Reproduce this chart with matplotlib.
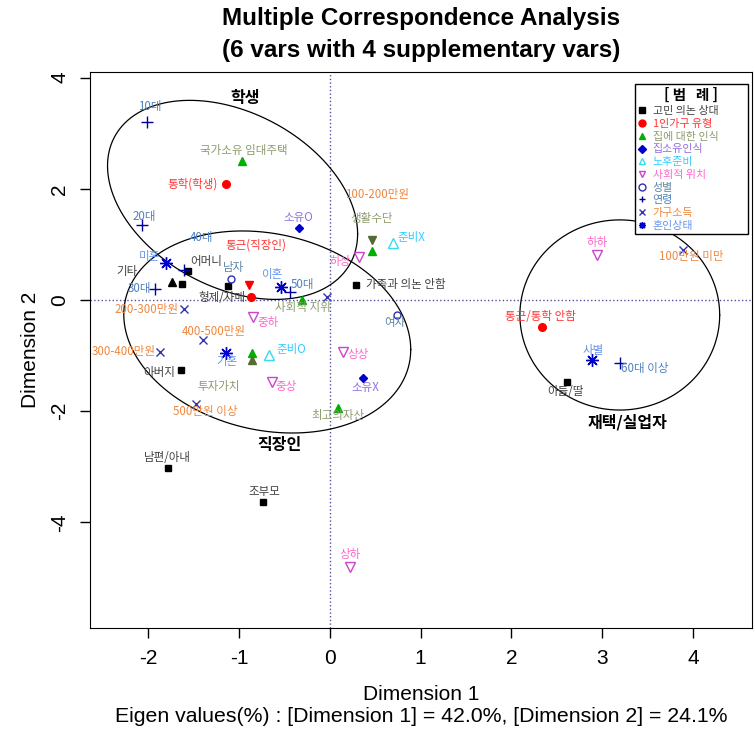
import numpy as np
import matplotlib
matplotlib.use("Agg")
import matplotlib.pyplot as plt
from matplotlib.lines import Line2D

plt.rcParams["font.family"] = ["Liberation Sans", "Noto Sans CJK KR", "DejaVu Sans"]
plt.rcParams["axes.unicode_minus"] = False
KR = ["Noto Sans CJK KR", "DejaVu Sans"]

# ---- MCA category coordinates (Dimension 1, Dimension 2) ----
groups = ["고민 의논 상대", "1인가구 유형", "집에 대한 인식", "집소유인식", "노후준비",
          "사회적 위치", "성별", "연령", "가구소득", "혼인상태"]

levels = [
    ["기타", "어머니", "형제/자매", "가족과 의논 안함", "아버지", "남편/아내", "조부모", "아들/딸"],
    ["통학(학생)", "통근(직장인)", "통근/통학 안함"],
    ["국가소유 임대주택", "생활수단", "사회적 지위", "투자가치", "최고의자산"],
    ["소유O", "소유X"],
    ["준비X", "준비O"],
    ["하하", "하상", "중하", "상상", "중상", "상하"],
    ["남자", "여자"],
    ["10대", "20대", "30대", "40대", "50대", "60대 이상"],
    ["100-200만원", "200-300만원", "300-400만원", "400-500만원", "500만원 이상", "100만원 미만"],
    ["미혼", "이혼", "기혼", "사별"],
]
dim1 = [
    [-1.630, -1.564, -1.123, 0.286, -1.641, -1.784, -0.738, 2.610],
    [-1.145, -0.870, 2.335],
    [-0.969, 0.463, -0.308, -0.859, 0.088],
    [-0.341, 0.363],
    [0.694, -0.672],
    [2.941, 0.319, -0.848, 0.143, -0.639, 0.220],
    [-1.090, 0.738],
    [-2.015, -2.070, -1.927, -1.608, -0.441, 3.194],
    [-0.033, -1.608, -1.872, -1.399, -1.476, 3.888],
    [-1.806, -0.540, -1.145, 2.885],
]
dim2 = [
    [0.288, 0.522, 0.252, 0.270, -1.259, -3.022, -3.633, -1.475],
    [2.086, 0.054, -0.486],
    [2.500, 0.881, 0.000, -0.953, -1.942],
    [1.295, -1.403],
    [1.025, -0.989],
    [0.809, 0.773, -0.306, -0.935, -1.475, -4.802],
    [0.378, -0.270],
    [3.201, 1.349, 0.198, 0.540, 0.144, -1.133],
    [0.054, -0.162, -0.935, -0.719, -1.871, 0.899],
    [0.665, 0.234, -0.953, -1.079],
]
# label placement (pixels from the point)
label_off = [
    [(-55, 12), (18, 9), (-6, -12), (50, 0), (-22, -3), (0, 10), (2, 10), (-1, -10)],
    [(-33, 0), (5, 52), (-1, 10)],
    [(2, 10), (0, 32), (1, -8), (-33, -34), (0, -8)],
    [(0, 10), (3, -10)],
    [(19, 5), (23, 5)],
    [(0, 12), (-19, -5), (15, -6), (15, -3), (14, -5), (0, 12)],
    [(3, 11), (-2, -8)],
    [(3, 15), (3, 8), (-15, 0), (18, 32), (13, 7), (25, -6)],
    [(50, 102), (-37, -1), (-36, 0), (11, 8), (10, -8), (8, -7)],
    [(-16, 6), (-9, 12), (1, -9), (1, 9)],
]

# stray overplotted symbols
extra_x = [-0.892, 0.463, -0.859, -1.740]
extra_y = [0.270, 1.079, -1.079, 0.324]
extra_mk = ["v", "v", "^", "^"]
extra_col = ["#FF0000", "#556B2F", "#556B2F", "#000000"]

# cluster ellipses: centre, half-extent x/y, phase (deg)
clusters = ["학생", "직장인", "재택/실업자"]
cl_x = [-0.936, -0.551, 3.282]
cl_y = [3.633, -2.608, -2.194]
ell_cx = [-1.07, -0.688, 3.194]
ell_cy = [1.80, -0.576, -0.27]
ell_rx = [1.377, 1.58, 1.10]
ell_ry = [1.79, 1.817, 1.71]
ell_ph = [110, 100, 90]

eig1, eig2 = 42.0, 24.1

# ---- styles ----
mk = ["s", "o", "^", "D", "^", "v", "o", "+", "x", (8, 2, 0)]
mcol = ["#000000", "#FF0000", "#00B000", "#0000CC", "#33DDEE", "#CC44CC",
        "#3030B0", "#000099", "#3333AA", "#0000CC"]
filled = [True, True, True, True, False, False, False, True, True, True]
msize = [5, 5.5, 6, 4, 7, 7, 5, 9, 6, 9]
tcol = ["#404040", "#FF3333", "#8C9C6C", "#9370DB", "#33CCFF", "#FF66CC",
        "#5F87A8", "#4F81BD", "#F0883E", "#6495ED"]

fig = plt.figure(figsize=(7.55, 7.31), dpi=100)
ax = fig.add_axes([90 / 755, 1 - 628 / 731, 662 / 755, 556 / 731])

ax.axhline(0, color="#5050A0", lw=1, ls=":")
ax.axvline(0, color="#5050A0", lw=1, ls=":")

t = np.linspace(0, 2 * np.pi, 300)
for cx, cy, rx, ry, ph in zip(ell_cx, ell_cy, ell_rx, ell_ry, ell_ph):
    ax.plot(cx + rx * np.cos(t), cy + ry * np.cos(t - np.radians(ph)), color="black", lw=0.9)

handles = []
for g in range(len(groups)):
    kw = dict(marker=mk[g], ms=msize[g], ls="none", mew=1)
    if filled[g]:
        kw.update(color=mcol[g])
    else:
        kw.update(mfc="none", mec=mcol[g])
    ax.plot(dim1[g], dim2[g], **kw)
    for name, x, y, (dx, dy) in zip(levels[g], dim1[g], dim2[g], label_off[g]):
        ax.annotate(name, (x, y), xytext=(dx, dy), textcoords="offset pixels",
                    ha="center", va="center", fontsize=8.3, color=tcol[g], family=KR)
    handles.append(Line2D([], [], **dict(kw, ms=min(msize[g], 5))))

for x, y, m, c in zip(extra_x, extra_y, extra_mk, extra_col):
    ax.plot(x, y, marker=m, color=c, ms=6, ls="none")

for name, x, y in zip(clusters, cl_x, cl_y):
    ax.text(x, y, name, ha="center", va="center", fontsize=11.5, fontweight="bold", family=KR)

ax.set_xlim(-2.64, 4.65)
ax.set_ylim(-5.90, 4.10)
ax.set_xticks(range(-2, 5))
ax.set_yticks([-4, -2, 0, 2, 4])
ax.tick_params(labelsize=15, length=7, width=1, pad=8)
for lab in ax.get_yticklabels():
    lab.set_rotation(90)
    lab.set_va("center")

leg = ax.legend(handles, groups, loc="upper left", mode="expand",
                bbox_to_anchor=(545 / 662, 544 / 556 - 0.01, 113 / 662, 0.01),
                borderaxespad=0, fancybox=False, edgecolor="black", framealpha=1,
                prop={"family": KR, "size": 7.9}, labelcolor=tcol,
                title="[ 범   례 ]", title_fontproperties={"family": KR, "weight": "bold", "size": 10.5},
                handlelength=0.7, handletextpad=0.6, labelspacing=0.25, borderpad=0.3)
leg.get_frame().set_linewidth(1)

cx_fig = (90 + 331) / 755
fig.text(cx_fig, 1 - 18 / 731, "Multiple Correspondence Analysis", ha="center", va="center",
         fontsize=17.5, fontweight="bold")
fig.text(cx_fig, 1 - 50 / 731, "(6 vars with 4 supplementary vars)", ha="center", va="center",
         fontsize=17.5, fontweight="bold")
fig.text(cx_fig, 1 - 694 / 731, "Dimension 1", ha="center", va="center", fontsize=15)
fig.text(cx_fig, 1 - 716 / 731,
         f"Eigen values(%) : [Dimension 1] = {eig1:.1f}%, [Dimension 2] = {eig2:.1f}%",
         ha="center", va="center", fontsize=15.3)
fig.text(30 / 755, 1 - 350 / 731, "Dimension 2", ha="center", va="center", fontsize=15, rotation=90)

fig.savefig("out.png", dpi=100)
